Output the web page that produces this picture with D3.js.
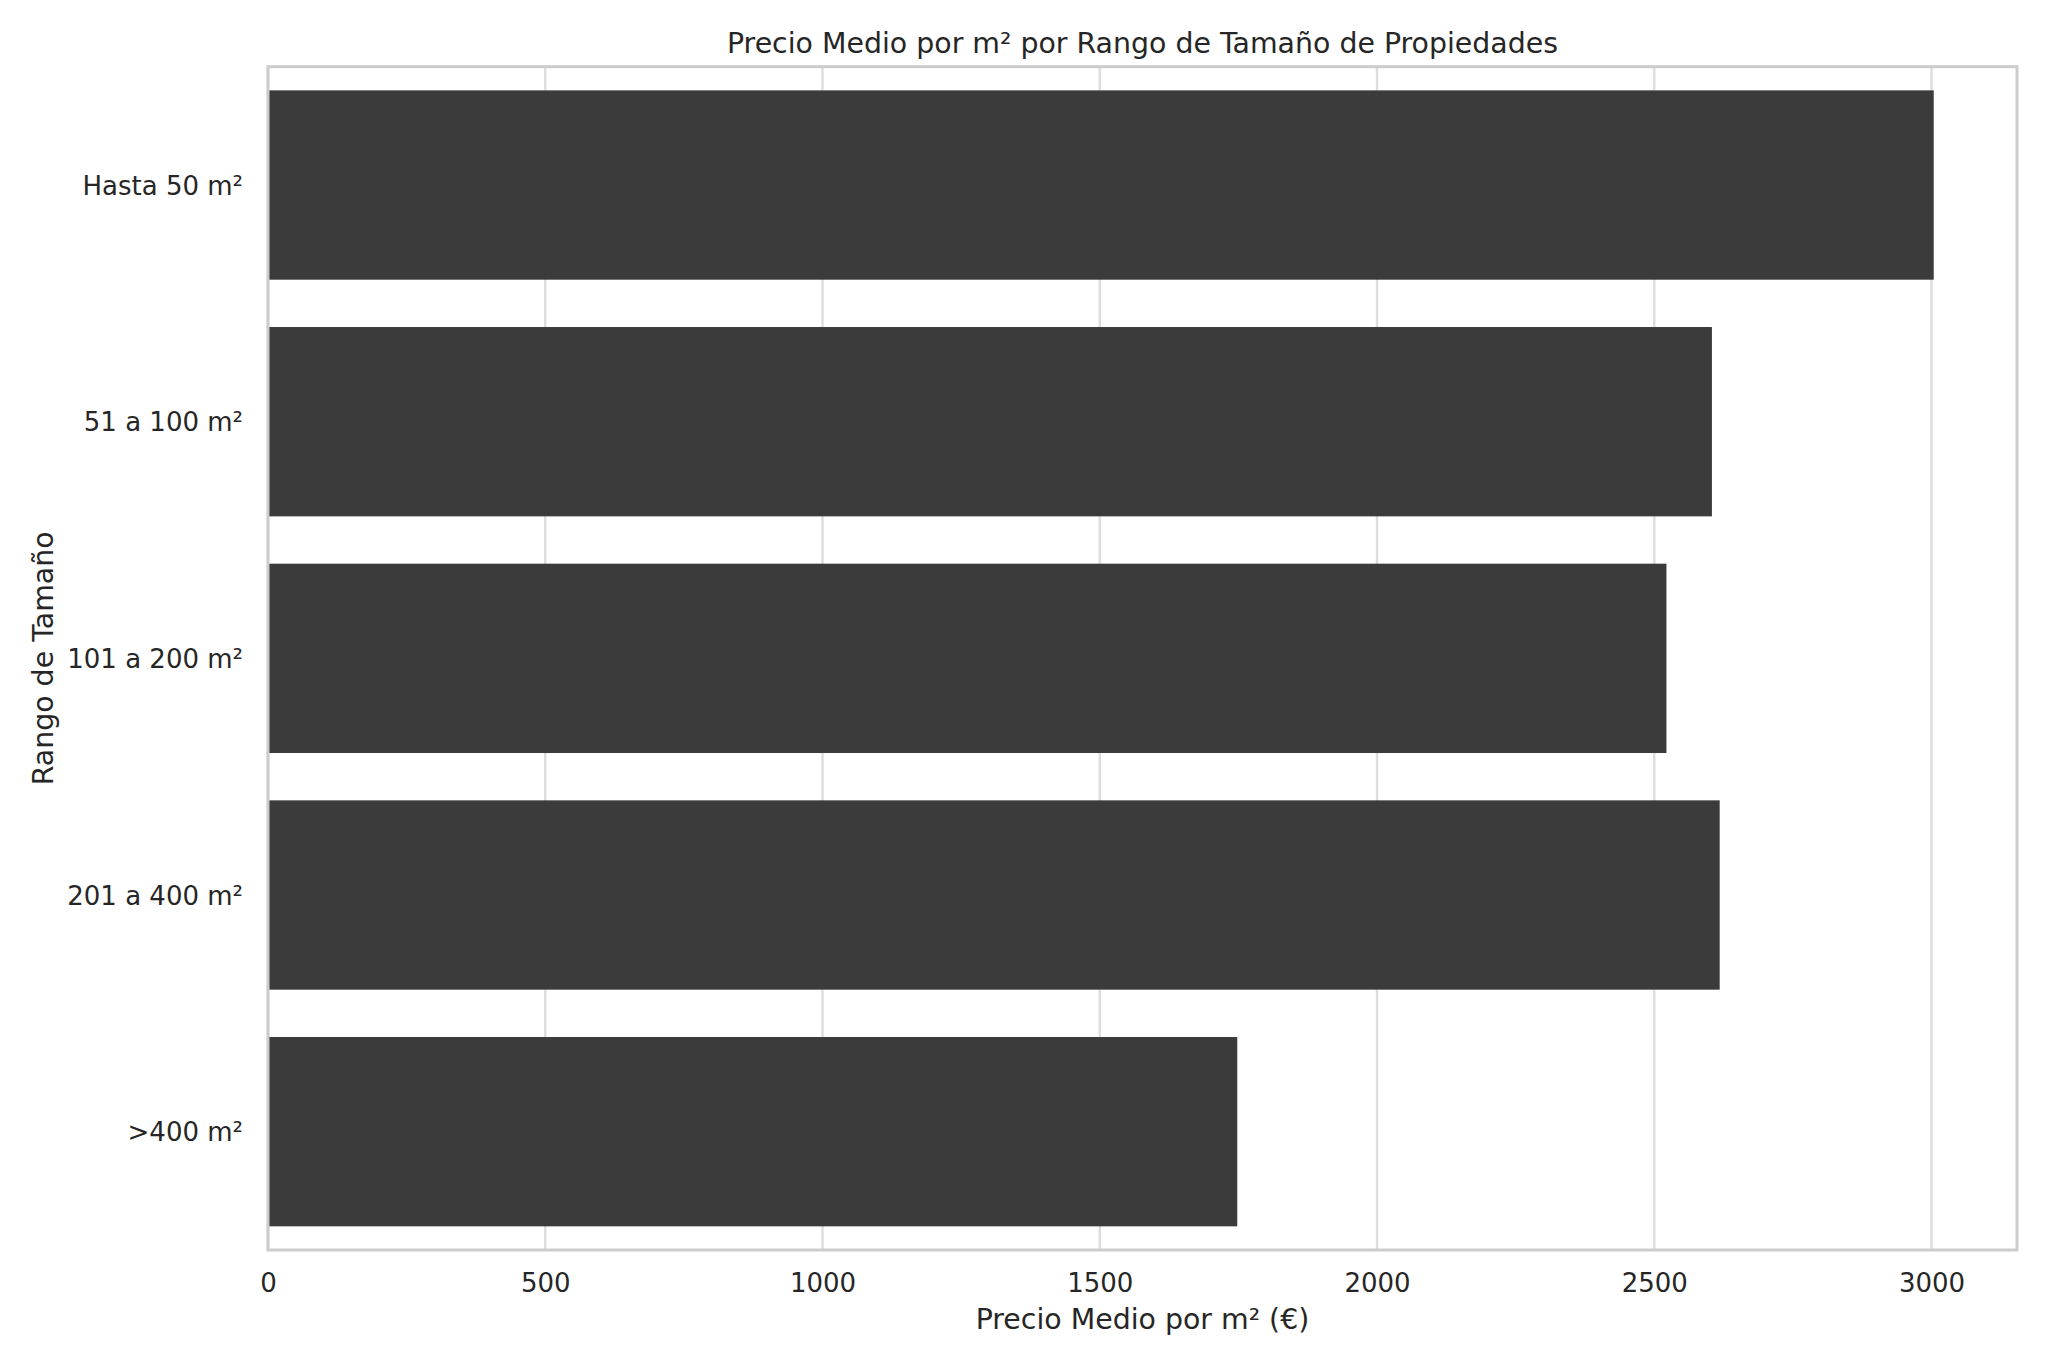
<!DOCTYPE html>
<html>
<head>
<meta charset="utf-8">
<script src="https://cdn.jsdelivr.net/npm/d3@7"></script>
<style>
  html, body { margin: 0; padding: 0; background: #ffffff; }
  svg { display: block; }
  text { font-family: "DejaVu Sans", sans-serif; fill: #262626; }
</style>
</head>
<body>
<svg id="chart" width="2048" height="1365"></svg>
<script>
// ---- data ----
const categories = ["Hasta 50 m²", "51 a 100 m²", "101 a 200 m²", "201 a 400 m²", ">400 m²"];
const values = [3004, 2604, 2522, 2618, 1748];
const xTicks = [0, 500, 1000, 1500, 2000, 2500, 3000];
const titleText = "Precio Medio por m² por Rango de Tamaño de Propiedades";
const xLabelText = "Precio Medio por m² (€)";
const yLabelText = "Rango de Tamaño";

// ---- layout ----
const W = 2048, H = 1365;
const plotLeft = 268, plotRight = 2017, plotTop = 66.7, plotBottom = 1250;

const svg = d3.select("#chart");

const x = d3.scaleLinear()
  .domain([0, d3.max(values) * 1.05])
  .range([plotLeft, plotRight]);

const y = d3.scaleBand()
  .domain(categories)
  .range([plotTop, plotBottom])
  .paddingInner(0.2)
  .paddingOuter(0.1);

// background
svg.append("rect").attr("x", 0).attr("y", 0).attr("width", W).attr("height", H).attr("fill", "#ffffff");

// vertical gridlines
svg.append("g")
  .selectAll("line")
  .data(xTicks)
  .join("line")
  .attr("x1", d => x(d)).attr("x2", d => x(d))
  .attr("y1", plotTop).attr("y2", plotBottom)
  .attr("stroke", "#dddddd")
  .attr("stroke-width", 2.4);

// bars
const data = categories.map((c, i) => ({ c, v: values[i] }));
svg.append("g")
  .selectAll("rect")
  .data(data)
  .join("rect")
  .attr("x", x(0))
  .attr("y", d => y(d.c))
  .attr("width", d => x(d.v) - x(0))
  .attr("height", y.bandwidth())
  .attr("fill", "#3b3b3b");

// spines
svg.append("rect")
  .attr("x", plotLeft).attr("y", plotTop)
  .attr("width", plotRight - plotLeft).attr("height", plotBottom - plotTop)
  .attr("fill", "none")
  .attr("stroke", "#cccccc")
  .attr("stroke-width", 3);

// x axis tick labels
const xAxis = d3.axisBottom(x).tickValues(xTicks).tickSize(0).tickPadding(0).tickFormat(d3.format("d"));
const gx = svg.append("g").attr("transform", `translate(0,${plotBottom})`).call(xAxis);
gx.select(".domain").remove();
gx.selectAll("text")
  .attr("y", 42)
  .attr("dy", null)
  .attr("font-size", 26)
  .attr("fill", "#262626")
  .attr("font-family", "DejaVu Sans, sans-serif");

// y axis tick labels
const yAxis = d3.axisLeft(y).tickSize(0).tickPadding(0);
const gy = svg.append("g").attr("transform", `translate(${plotLeft},0)`).call(yAxis);
gy.select(".domain").remove();
gy.selectAll("text")
  .attr("x", -25)
  .attr("dy", "0.37em")
  .attr("font-size", 26)
  .attr("fill", "#262626")
  .attr("font-family", "DejaVu Sans, sans-serif");

// title
svg.append("text")
  .attr("x", (plotLeft + plotRight) / 2)
  .attr("y", 52.5)
  .attr("text-anchor", "middle")
  .attr("font-size", 28.4)
  .text(titleText);

// x label
svg.append("text")
  .attr("x", (plotLeft + plotRight) / 2)
  .attr("y", 1329)
  .attr("text-anchor", "middle")
  .attr("font-size", 28.4)
  .text(xLabelText);

// y label
svg.append("text")
  .attr("transform", `translate(53,${(plotTop + plotBottom) / 2}) rotate(-90)`)
  .attr("text-anchor", "middle")
  .attr("font-size", 28.4)
  .text(yLabelText);
</script>
</body>
</html>
